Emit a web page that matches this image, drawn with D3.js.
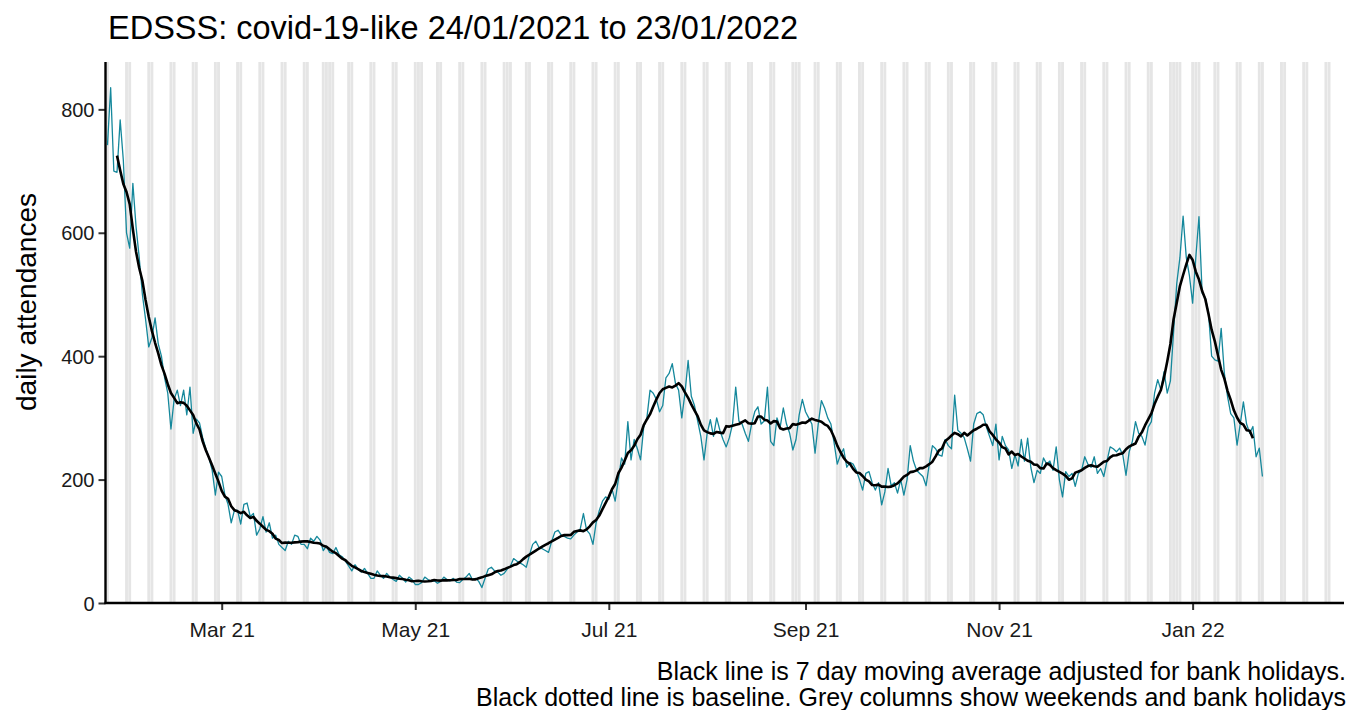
<!DOCTYPE html>
<html>
<head>
<meta charset="utf-8">
<script src="https://cdn.jsdelivr.net/npm/d3@7"></script>
<style>
  html, body { margin: 0; padding: 0; background: #ffffff; }
  svg { display: block; }
  text { font-family: "Liberation Sans", Arial, sans-serif; }
</style>
</head>
<body>
<svg id="chart" width="1346" height="710"></svg>
<script>
// ---------------- DATA ----------------
const titleText = "EDSSS: covid-19-like 24/01/2021 to 23/01/2022";
const yAxisTitle = "daily attendances";
const captionLines = [
  "Black line is 7 day moving average adjusted for bank holidays.",
  "Black dotted line is baseline. Grey columns show weekends and bank holidays"
];
const firstDate = "2021-01-24";          // date of first daily value
const xLimits = ["2021-01-23T09:00:00Z", "2022-02-17T17:00:00Z"];
const xTickDates = ["2021-03-01", "2021-05-01", "2021-07-01", "2021-09-01", "2021-11-01", "2022-01-01"];
const yTicks = [0, 200, 400, 600, 800];
const bankHolidays = ["2021-04-02", "2021-04-05", "2021-05-03", "2021-05-31",
                      "2021-08-30", "2021-12-27", "2021-12-28", "2022-01-03"];
// daily attendances, one value per day from 24/01/2021 to 23/01/2022
const dailyAttendances = [
  742, 835, 700, 698, 783, 717, 600,
  575, 680, 610, 560, 500, 460, 415,
  430, 462, 420, 400, 365, 340, 282,
  330, 345, 320, 345, 305, 350, 275,
  298, 292, 268, 250, 235, 215, 175,
  212, 205, 175, 160, 130, 150, 150,
  128, 160, 162, 140, 145, 110, 120,
  140, 115, 130, 105, 110, 95, 90,
  85, 100, 95, 110, 108, 95, 95,
  88, 105, 100, 108, 102, 85, 92,
  82, 80, 90, 78, 75, 68, 60,
  52, 62, 55, 50, 56, 48, 40,
  40, 52, 45, 40, 48, 42, 38,
  35, 45, 40, 34, 42, 38, 30,
  30, 33, 42, 38, 35, 36, 32,
  35, 42, 38, 36, 40, 34, 33,
  38, 42, 48, 38, 40, 35, 25,
  40, 55, 58, 52, 50, 45, 48,
  55, 60, 72, 68, 65, 62, 58,
  78, 95, 100, 90, 88, 85, 82,
  100, 115, 118, 110, 108, 105, 104,
  110, 115, 120, 145, 118, 112, 95,
  130, 150, 165, 172, 168, 185, 165,
  200, 235, 225, 294, 232, 265, 250,
  232, 285, 300, 345, 340, 330, 310,
  320, 365, 372, 388, 356, 345, 300,
  340, 393, 335, 320, 295, 270, 232,
  275, 297, 270, 300, 280, 265, 253,
  268, 290, 350, 295, 290, 275, 262,
  290, 310, 318, 290, 295, 350, 262,
  255, 300, 285, 316, 290, 275, 248,
  265, 305, 330, 310, 300, 290, 243,
  290, 328, 316, 300, 290, 260, 225,
  240, 250, 220, 228, 225, 215, 200,
  183, 210, 213, 195, 183, 195, 159,
  180, 218, 190, 195, 178, 200, 175,
  200, 255, 230, 215, 210, 205, 190,
  225, 255, 250, 240, 238, 265, 255,
  250, 337, 280, 275, 268, 250, 230,
  290, 307, 310, 305, 285, 270, 255,
  290, 232, 270, 255, 248, 218, 240,
  222, 265, 230, 267, 220, 195, 215,
  210, 235, 225, 230, 215, 253, 200,
  172, 213, 205, 210, 189, 210, 215,
  237, 225, 220, 237, 210, 218, 205,
  230, 253, 250, 245, 251, 240, 207,
  245, 262, 294, 275, 270, 256, 285,
  294, 340, 362, 345, 375, 340, 360,
  440, 518, 560, 627, 560, 530, 486,
  560, 626, 502, 495, 470, 400, 394,
  392, 445, 372, 335, 307, 300, 256,
  290, 326, 290, 275, 286, 237, 251,
  205
];

// ---------------- LAYOUT ----------------
const plot = { left: 105.5, right: 1344, top: 62, bottom: 603 };
const teal = "#15889c";
const greyCol = "#e5e5e5";

const svg = d3.select("#chart");
const parseDay = d3.utcParse("%Y-%m-%d");
const start = parseDay(firstDate);
const series = dailyAttendances.map((v, i) => ({ date: d3.utcDay.offset(start, i), value: v }));

// centred 7-day moving average
const ma = [];
for (let i = 3; i < series.length - 3; i++) {
  ma.push({ date: series[i].date, value: d3.mean(series.slice(i - 3, i + 4), d => d.value) });
}

const x = d3.scaleUtc()
  .domain(xLimits.map(s => new Date(s)))
  .range([plot.left, plot.right]);
const y = d3.scaleLinear()
  .domain([0, d3.max(dailyAttendances) * 1.05])
  .range([plot.bottom, plot.top]);

const dayW = x(d3.utcDay.offset(start, 1)) - x(start);

svg.append("defs").append("clipPath").attr("id", "clip")
  .append("rect").attr("x", plot.left).attr("y", plot.top)
  .attr("width", plot.right - plot.left).attr("height", plot.bottom - plot.top);

// grey columns: weekends and bank holidays across the whole axis range
const bh = new Set(bankHolidays);
const fmtDay = d3.utcFormat("%Y-%m-%d");
const allDays = d3.utcDay.range(d3.utcDay.offset(d3.utcDay.floor(x.domain()[0]), -1),
                                d3.utcDay.offset(x.domain()[1], 1));
const greyDays = allDays.filter(d => d.getUTCDay() === 0 || d.getUTCDay() === 6 || bh.has(fmtDay(d)));

const g = svg.append("g").attr("clip-path", "url(#clip)");
g.selectAll("rect.col").data(greyDays).join("rect")
  .attr("class", "col")
  .attr("x", d => x(d) - dayW * 0.45)
  .attr("width", dayW * 0.9)
  .attr("y", y(y.domain()[1]))
  .attr("height", y(0) - y(y.domain()[1]))
  .attr("fill", greyCol);

// daily line
g.append("path").datum(series)
  .attr("fill", "none").attr("stroke", teal).attr("stroke-width", 1.3)
  .attr("stroke-linejoin", "round")
  .attr("d", d3.line().x(d => x(d.date)).y(d => y(d.value)));

// moving average
g.append("path").datum(ma)
  .attr("fill", "none").attr("stroke", "#000").attr("stroke-width", 2.6)
  .attr("stroke-linejoin", "round").attr("stroke-linecap", "butt")
  .attr("d", d3.line().x(d => x(d.date)).y(d => y(d.value)));

// axes
const yAxis = d3.axisLeft(y).tickValues(yTicks).tickSize(7).tickPadding(4);
const gy = svg.append("g").attr("transform", `translate(${plot.left},0)`).call(yAxis);
const xAxis = d3.axisBottom(x).tickValues(xTickDates.map(parseDay))
  .tickFormat(d3.utcFormat("%b %y")).tickSize(7).tickPadding(12);
const gx = svg.append("g").attr("transform", `translate(0,${plot.bottom})`).call(xAxis);

[gx, gy].forEach(ax => {
  ax.select(".domain").remove();
  ax.selectAll(".tick line").attr("stroke", "#333").attr("stroke-width", 2);
  ax.selectAll(".tick text").attr("fill", "#1a1a1a")
    .style("font-family", "'Liberation Sans', Arial, sans-serif");
});
gx.selectAll(".tick text").style("font-size", "21px");
gy.selectAll(".tick text").style("font-size", "20px").attr("dy", "0.35em");

// axis lines
svg.append("line").attr("x1", plot.left).attr("x2", plot.left)
  .attr("y1", plot.top).attr("y2", plot.bottom + 1)
  .attr("stroke", "#000").attr("stroke-width", 2.4);
svg.append("line").attr("x1", plot.left - 1).attr("x2", plot.right)
  .attr("y1", plot.bottom).attr("y2", plot.bottom)
  .attr("stroke", "#000").attr("stroke-width", 2.4);

// title
svg.append("text").attr("x", 108).attr("y", 39)
  .style("font-size", "32.5px").attr("fill", "#000").text(titleText);

// y axis title
svg.append("text")
  .attr("transform", `translate(36,302) rotate(-90)`)
  .attr("text-anchor", "middle")
  .style("font-size", "28px").attr("fill", "#000").text(yAxisTitle);

// caption
svg.selectAll("text.caption").data(captionLines).join("text")
  .attr("class", "caption")
  .attr("x", 1346).attr("y", (d, i) => 680 + i * 26)
  .attr("text-anchor", "end")
  .style("font-size", "25px").attr("fill", "#000").text(d => d);
</script>
</body>
</html>
